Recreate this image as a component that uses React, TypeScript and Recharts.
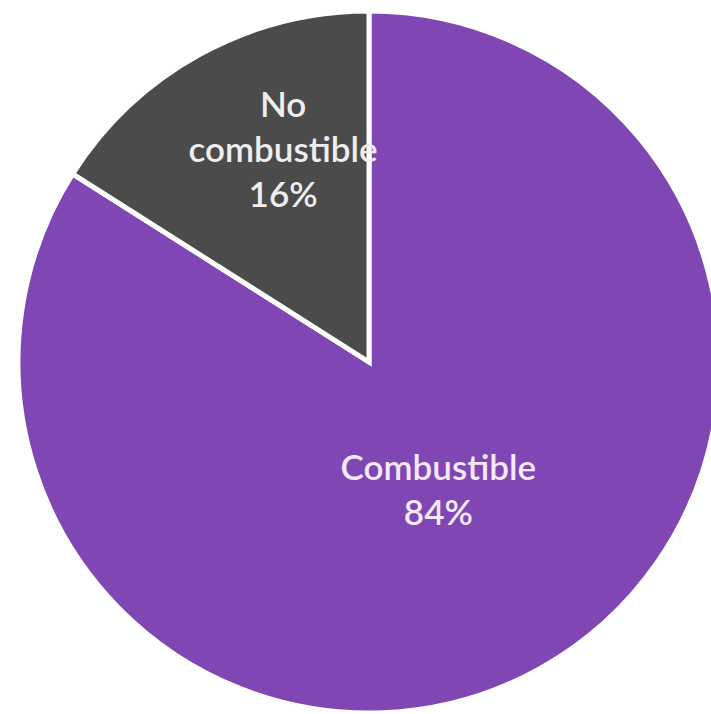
import { PieChart, Pie, Cell } from 'recharts';

const categories = ['Combustible', 'No combustible'];
const shares = [84, 16];
const colors = ['#8046B4', '#4B4B4B'];

const data = categories.map((name, i) => ({ name, value: shares[i] }));

const RADIAN = Math.PI / 180;
// per-slice placement of the label block (fraction of radius, nudges)
const labelRadius = [0.41, 0.65];
const labelNudgeX = [0, 24];
const labelNudgeY = [0, -14];

function renderLabel({ cx, cy, midAngle, outerRadius, index, name, value }: any) {
  const r = outerRadius * labelRadius[index];
  const x = cx + r * Math.cos(-midAngle * RADIAN) + labelNudgeX[index];
  const y = cy + r * Math.sin(-midAngle * RADIAN) + labelNudgeY[index];
  const lines: string[] = name === 'No combustible' ? ['No', 'combustible', `${value}%`] : [name, `${value}%`];
  const lh = 45;
  const top = y - ((lines.length - 1) * lh) / 2;
  return (
    <text
      x={x}
      y={top}
      textAnchor="middle"
      dominantBaseline="central"
      fill={index === 0 ? '#F4E9F8' : '#EEEEEE'}
      fontFamily="Lato, 'Open Sans', sans-serif"
      fontSize={35}
      fontWeight={600}
    >
      {lines.map((t, i) => (
        <tspan key={i} x={x} dy={i === 0 ? 0 : lh}>
          {t}
        </tspan>
      ))}
    </text>
  );
}

export default function App() {
  return (
    <div style={{ position: 'absolute', left: 0, top: 0, background: '#fff' }}>
      <PieChart width={711} height={714} margin={{ top: 0, right: 0, bottom: 0, left: 0 }}>
        <Pie
          data={data}
          dataKey="value"
          nameKey="name"
          cx={369}
          cy={362}
          outerRadius={351}
          startAngle={90}
          endAngle={-270}
          stroke="#ffffff"
          strokeWidth={5}
          labelLine={false}
          label={renderLabel}
          isAnimationActive={false}
        >
          {data.map((d, i) => (
            <Cell key={d.name} fill={colors[i]} />
          ))}
        </Pie>
      </PieChart>
    </div>
  );
}
